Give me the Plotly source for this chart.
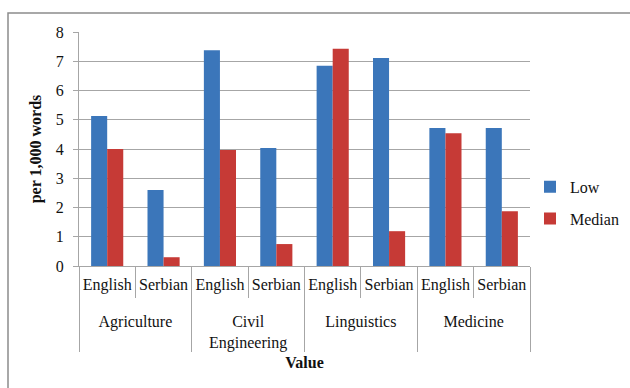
import plotly.graph_objects as go

fields = ["<br>Agriculture", "<br>Agriculture", "<br>Civil<br>Engineering", "<br>Civil<br>Engineering",
          "<br>Linguistics", "<br>Linguistics", "<br>Medicine", "<br>Medicine"]
languages = ["English", "Serbian", "English", "Serbian", "English", "Serbian", "English", "Serbian"]
low = [5.13, 2.6, 7.38, 4.03, 6.85, 7.11, 4.72, 4.72]
median = [4.0, 0.3, 3.97, 0.75, 7.43, 1.19, 4.54, 1.87]

FONT = "Liberation Serif"
GRID = "#a6a6a6"

fig = go.Figure()
fig.add_trace(go.Bar(x=[fields, languages], y=low, name="Low",
                     marker=dict(color="#3B76BA", line=dict(width=0)), legendgroup="a"))
fig.add_trace(go.Bar(x=[fields, languages], y=median, name="Median",
                     marker=dict(color="#C63A36", line=dict(width=0)), legendgroup="b"))

fig.update_layout(
    width=630, height=388,
    margin=dict(l=79, r=100, t=32, b=122, autoexpand=False),
    paper_bgcolor="white", plot_bgcolor="white",
    font=dict(family=FONT, size=16, color="#111"),
    barmode="group", bargap=0.43, bargroupgap=0,
    showlegend=True,
    legend=dict(x=1.0, y=0.27, xanchor="left", yanchor="middle",
                font=dict(family=FONT, size=16), tracegroupgap=8,
                traceorder="grouped", itemwidth=30, bgcolor="rgba(0,0,0,0)"),
    xaxis=dict(type="multicategory", showline=True, linecolor=GRID, linewidth=1,
               showdividers=True, dividercolor=GRID, dividerwidth=1,
               ticks="outside", tickson="boundaries", ticklen=31, tickcolor=GRID,
               tickangle=0, automargin=False,
               tickfont=dict(family=FONT, size=16), ticklabelstandoff=4,
               title=dict(text="<b>Value</b>", font=dict(family=FONT, size=16), standoff=6)),
    yaxis=dict(range=[0, 8], dtick=1, showgrid=True, gridcolor=GRID, gridwidth=1,
               showline=True, linecolor=GRID, linewidth=1, zeroline=False,
               ticks="outside", ticklen=5, tickcolor=GRID, automargin=False,
               tickfont=dict(family=FONT, size=16), ticklabelstandoff=6,
               title=dict(text="<b>per 1,000 words</b>", font=dict(family=FONT, size=16), standoff=10)),
    shapes=[dict(type="rect", xref="paper", yref="paper",
                 x0=-71/451, x1=1.25, y0=-0.7, y1=(266-13)/234,
                 line=dict(color="#8c8c8c", width=1.5), fillcolor="rgba(0,0,0,0)", layer="below")],
)

fig.write_html("out.html")
